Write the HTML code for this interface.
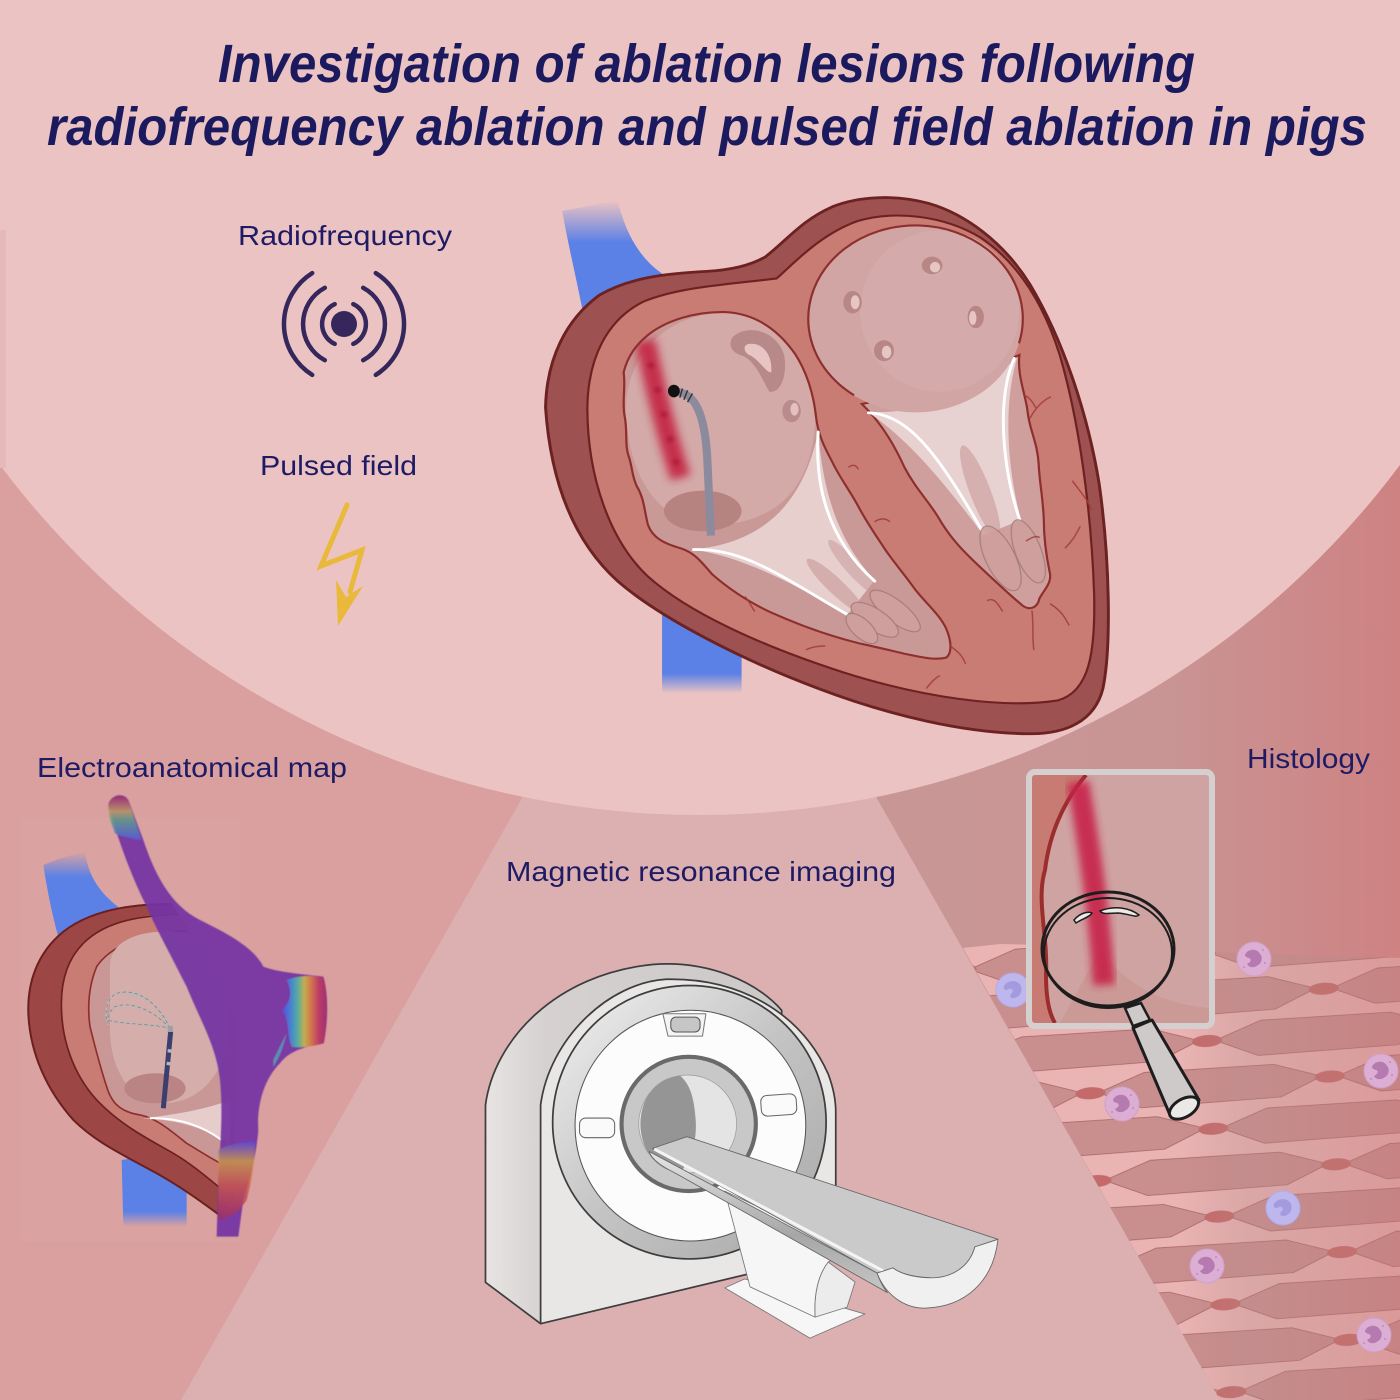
<!DOCTYPE html>
<html><head><meta charset="utf-8">
<style>html,body{margin:0;padding:0;background:#ecc3c3;}svg{display:block;}</style>
</head><body>
<svg width="1400" height="1400" viewBox="0 0 1400 1400" xmlns="http://www.w3.org/2000/svg">
<defs>
 <linearGradient id="rgRight" x1="880" y1="0" x2="1400" y2="0" gradientUnits="userSpaceOnUse">
  <stop offset="0" stop-color="#c99696"/><stop offset="0.55" stop-color="#c99494"/><stop offset="1" stop-color="#ce8282"/>
 </linearGradient>
 <linearGradient id="fadeTop" x1="0" y1="0" x2="0" y2="1">
  <stop offset="0" stop-color="#5b80e6" stop-opacity="0"/><stop offset="0.3" stop-color="#5b80e6" stop-opacity="1"/><stop offset="1" stop-color="#5b80e6" stop-opacity="1"/>
 </linearGradient>
 <linearGradient id="fadeBot" x1="0" y1="0" x2="0" y2="1">
  <stop offset="0" stop-color="#5b80e6" stop-opacity="1"/><stop offset="0.8" stop-color="#5b80e6" stop-opacity="1"/><stop offset="1" stop-color="#5b80e6" stop-opacity="0"/>
 </linearGradient>
 <linearGradient id="tisDark" x1="1180" y1="0" x2="1400" y2="0" gradientUnits="userSpaceOnUse">
  <stop offset="0" stop-color="#b88080" stop-opacity="0"/><stop offset="0.3" stop-color="#b88a8a" stop-opacity="0.3"/><stop offset="1" stop-color="#c47272" stop-opacity="0.4"/>
 </linearGradient>
 <linearGradient id="rbH" x1="0" y1="0" x2="1" y2="0">
  <stop offset="0" stop-color="#5a48d8"/><stop offset="0.18" stop-color="#3f88e0"/><stop offset="0.35" stop-color="#4fc0a0"/><stop offset="0.5" stop-color="#d0c040"/><stop offset="0.65" stop-color="#e08040"/><stop offset="0.82" stop-color="#c83a5a"/><stop offset="1" stop-color="#a03070"/>
 </linearGradient>
 <linearGradient id="rbV" x1="0" y1="0" x2="0" y2="1">
  <stop offset="0" stop-color="#a02c70"/><stop offset="0.35" stop-color="#c0a060"/><stop offset="0.55" stop-color="#60a088"/><stop offset="1" stop-color="#5060d8"/>
 </linearGradient>
 <linearGradient id="rbB" x1="0" y1="0" x2="0" y2="1">
  <stop offset="0" stop-color="#5a4ad8"/><stop offset="0.25" stop-color="#d0a040"/><stop offset="0.55" stop-color="#d05a48"/><stop offset="1" stop-color="#a02c60"/>
 </linearGradient>
 <linearGradient id="mriBack" x1="0" y1="0" x2="1" y2="0">
  <stop offset="0" stop-color="#e8e4e4"/><stop offset="0.2" stop-color="#d6d1d1"/><stop offset="1" stop-color="#ccc8c8"/>
 </linearGradient>
 <linearGradient id="ringG" x1="0" y1="0" x2="1" y2="1">
  <stop offset="0" stop-color="#f2f2f2"/><stop offset="0.5" stop-color="#c4c4c4"/><stop offset="1" stop-color="#a8a8a8"/>
 </linearGradient>
 <linearGradient id="sideG" x1="0" y1="0" x2="0" y2="1">
  <stop offset="0" stop-color="#e6e6e6"/><stop offset="0.6" stop-color="#a6a6a6"/><stop offset="1" stop-color="#c8c8c8"/>
 </linearGradient>
 <filter id="blurL" x="-50%" y="-50%" width="200%" height="200%"><feGaussianBlur stdDeviation="12"/></filter>
 <filter id="blurS" x="-50%" y="-50%" width="200%" height="200%"><feGaussianBlur stdDeviation="4"/></filter>
 <filter id="blurT" x="-10%" y="-10%" width="120%" height="120%"><feGaussianBlur stdDeviation="1.5"/></filter>
 <pattern id="tissue" width="240" height="88" patternUnits="userSpaceOnUse" patternTransform="translate(960,948) rotate(-4)">
  <rect width="240" height="88" fill="#e9b4b3"/>
  <g fill="#c98e8e" stroke="#a86464" stroke-width="0.8">
   <polygon points="8,22 55,5 185,6 232,21 190,39 50,40"/>
   <polygon points="248,22 295,5 425,6 472,21 430,39 290,40"/>
   <polygon points="-232,22 -185,5 -55,6 -8,21 -50,39 -190,40"/>
   <polygon points="128,66 175,49 305,50 352,65 310,83 170,84"/>
   <polygon points="-112,66 -65,49 65,50 112,65 70,83 -70,84"/>
  </g>
  <g fill="#c46a6a">
   <ellipse cx="0" cy="22" rx="15" ry="6"/>
   <ellipse cx="240" cy="22" rx="15" ry="6"/>
   <ellipse cx="120" cy="66" rx="15" ry="6"/>
  </g>
 </pattern>
 <clipPath id="tisClip"><polygon points="963,948 1000,944 1100,946 1215,952 1300,955 1400,958 1400,1400 1220,1400"/></clipPath>
 <clipPath id="boxClip"><rect x="1031" y="775" width="179" height="248"/></clipPath>
 <clipPath id="eamClip"><polygon points="0,0 420,0 470,300 560,440 650,560 700,700 710,1000 700,1400 0,1400"/></clipPath>
 <path id="raChamber" d="M228,640 C222,600 232,560 226,520 C238,470 262,440 290,415 C340,372 420,346 500,348 C585,352 645,400 690,468 C722,520 740,585 746,645 C752,700 770,735 790,775 C810,820 840,860 862,905 C885,950 905,980 930,1020 C955,1060 985,1095 1015,1140 C1045,1180 1080,1210 1098,1250 C1112,1285 1115,1320 1098,1333 C1065,1342 1025,1330 985,1322 C940,1310 905,1302 862,1292 C785,1272 700,1240 620,1202 C552,1168 505,1132 465,1095 C440,1065 420,1035 382,1022 C335,1008 305,992 292,955 C282,915 282,880 262,845 C248,815 250,790 240,760 C228,725 238,690 228,640 Z"/>
 <clipPath id="raClip"><use href="#raChamber"/></clipPath>
 <g id="pcell">
  <circle r="17" fill="#dcaed4" stroke="#cfa0c8" stroke-width="1"/>
  <path d="M-8,-6 C-4,-11 4,-10 6,-5 C9,-2 8,4 4,6 C1,9 -5,9 -7,5 C-3,3 -2,0 -5,-1 C-9,-2 -10,-4 -8,-6 Z" fill="#b57ab0"/>
  <circle cx="9" cy="-9" r="1" fill="#c08bbd"/><circle cx="11" cy="4" r="1" fill="#c08bbd"/><circle cx="-10" cy="8" r="1" fill="#c08bbd"/>
 </g>
 <g id="bcell">
  <circle r="17" fill="#bdb7ee" stroke="#b0aae8" stroke-width="1"/>
  <path d="M-9,-4 C-6,-10 5,-11 8,-4 C10,2 6,8 0,8 C-3,8 -4,5 -1,3 C1,1 -1,-2 -4,-1 C-7,1 -10,0 -9,-4 Z" fill="#a49ade"/>
 </g>
</defs>

<!-- background regions -->
<rect width="1400" height="1400" fill="#dcb0b0"/>
<polygon points="0,0 640,590 181,1400 0,1400" fill="#d9a09f"/>
<polygon points="758,590 1400,0 1400,1400 1220,1400" fill="url(#rgRight)"/>
<circle cx="700" cy="-60" r="875" fill="#ecc3c3"/>
<rect x="0" y="230" width="6" height="238" fill="#e5b9b9"/>

<!-- title -->
<g font-family="'Liberation Sans', Arial, sans-serif" font-weight="bold" font-style="italic" fill="#1c1a5e" font-size="54">
 <text x="218" y="82" textLength="977" lengthAdjust="spacingAndGlyphs">Investigation of ablation lesions following</text>
 <text x="47" y="145" textLength="1320" lengthAdjust="spacingAndGlyphs">radiofrequency ablation and pulsed field ablation in pigs</text>
</g>

<!-- labels -->
<g font-family="'Liberation Sans', Arial, sans-serif" fill="#1e1b64" font-size="28">
 <text x="238" y="245" textLength="214" lengthAdjust="spacingAndGlyphs">Radiofrequency</text>
 <text x="260" y="475" textLength="157" lengthAdjust="spacingAndGlyphs">Pulsed field</text>
 <text x="37" y="777" textLength="310" lengthAdjust="spacingAndGlyphs">Electroanatomical map</text>
 <text x="506" y="881" textLength="390" lengthAdjust="spacingAndGlyphs">Magnetic resonance imaging</text>
 <text x="1247" y="768" textLength="123" lengthAdjust="spacingAndGlyphs">Histology</text>
</g>

<!-- radio icon -->
<g stroke="#35275c" stroke-width="4.5" fill="none" stroke-linecap="round">
 <path d="M334.7,304.1 A22,22 0 0 0 334.7,343.9"/>
 <path d="M353.3,304.1 A22,22 0 0 1 353.3,343.9"/>
 <path d="M324.8,287.8 A41,41 0 0 0 324.8,360.2"/>
 <path d="M363.2,287.8 A41,41 0 0 1 363.2,360.2"/>
 <path d="M312.2,273.1 A60,60 0 0 0 312.2,374.9"/>
 <path d="M375.8,273.1 A60,60 0 0 1 375.8,374.9"/>
</g>
<circle cx="344" cy="324" r="13" fill="#35275c"/>

<!-- lightning -->
<polyline points="347,505 321,566 362,550 350,592" fill="none" stroke="#e8b93b" stroke-width="5" stroke-linecap="round" stroke-linejoin="miter"/>
<polygon points="336,580 346,597 363,586 338,626" fill="#e8b93b"/>

<!-- ================= BIG HEART ================= -->
<g transform="translate(540,190) scale(0.3699,0.3508)">
 <path d="M60,60 L210,30 C230,120 270,200 340,245 L130,430 C110,300 80,180 60,60 Z" fill="url(#fadeTop)"/>
 <rect x="330" y="1150" width="215" height="285" fill="url(#fadeBot)"/>
 <path d="M15,620 C18,480 70,370 160,300 C240,250 340,238 450,232 C520,228 570,215 610,190 C670,140 710,85 790,48 C860,18 960,12 1050,38 C1150,68 1255,150 1325,270 C1410,420 1480,630 1512,840 C1540,1050 1545,1300 1522,1420 C1500,1515 1420,1552 1320,1550 C1150,1548 950,1500 750,1420 C560,1345 330,1225 210,1115 C100,1010 30,850 15,620 Z" fill="#9d5150" stroke="#6d2222" stroke-width="8"/>
 <path d="M128,620 C130,480 180,370 280,318 C380,275 520,268 640,252 C690,205 760,125 860,88 C960,58 1090,72 1190,135 C1290,205 1360,320 1405,470 C1455,650 1490,900 1498,1150 C1502,1320 1485,1430 1400,1455 C1250,1480 1030,1445 820,1375 C600,1300 400,1205 290,1100 C190,1000 128,820 128,620 Z" fill="#c97c74" stroke="#6d2222" stroke-width="6"/>
 <use href="#raChamber" fill="#c99997"/>
 <g clip-path="url(#raClip)">
  <path d="M232,640 C230,460 350,352 500,350 C640,350 745,470 745,640 C740,850 640,950 470,955 C340,955 245,850 232,640 Z" fill="#d4aaa9"/>
  <path d="M415,1025 C600,1005 710,900 752,690 C765,860 805,1000 905,1112 L830,1212 C700,1130 550,1045 415,1025 Z" fill="#e7cfce"/>
  <ellipse cx="440" cy="915" rx="105" ry="58" fill="#b78381"/>
  <path d="M285,430 C310,560 340,690 380,820" stroke="#c3213f" stroke-width="55" fill="none" opacity="0.9" filter="url(#blurL)"/>
  <g fill="#a81838" opacity="0.7" filter="url(#blurS)">
   <circle cx="300" cy="500" r="9"/><circle cx="318" cy="570" r="9"/><circle cx="335" cy="640" r="9"/><circle cx="352" cy="710" r="9"/><circle cx="368" cy="775" r="9"/>
  </g>
  <path d="M520,420 C560,380 640,400 660,470 C670,530 650,580 620,575 C600,540 580,480 540,470 C515,460 510,440 520,420 Z" fill="#b78a89"/>
  <path d="M560,440 C600,430 630,470 625,520 C610,520 590,480 565,470 C550,460 550,445 560,440 Z" fill="#e8c5c4"/>
  <ellipse cx="680" cy="630" rx="25" ry="32" fill="#b98b8a"/>
  <ellipse cx="688" cy="625" rx="11" ry="18" fill="#e4c1c0"/>
  <ellipse cx="800" cy="1130" rx="22" ry="110" transform="rotate(-45 800 1130)" fill="#c69896" opacity="0.6"/>
  <ellipse cx="845" cy="1075" rx="20" ry="100" transform="rotate(-40 845 1075)" fill="#c69896" opacity="0.5"/>
 </g>
 <use href="#raChamber" fill="none" stroke="#8e2f2e" stroke-width="6"/>
 <path d="M870,610 C920,660 955,720 985,790 C1015,850 1045,880 1075,930 C1105,985 1135,1020 1175,1060 C1215,1100 1265,1150 1305,1185 C1325,1200 1345,1190 1350,1165 C1362,1140 1385,1120 1378,1090 C1368,1040 1362,990 1362,940 C1360,880 1350,830 1348,780 C1345,720 1322,680 1318,630 C1312,580 1290,530 1296,470 L1100,560 Z" fill="#cf9f9d" stroke="#8e2f2e" stroke-width="6"/>
 <path d="M885,632 C1010,640 1160,600 1290,478 C1250,620 1265,800 1300,940 L1200,985 C1110,860 1010,720 885,632 Z" fill="#e8d2d1"/>
 <ellipse cx="1190" cy="860" rx="28" ry="140" transform="rotate(-20 1190 860)" fill="#c99a98" opacity="0.6"/>
 <ellipse cx="1015" cy="368" rx="290" ry="266" fill="#d0a5a4"/>
 <ellipse cx="1080" cy="345" rx="215" ry="230" fill="#d5acab" opacity="0.8"/>
 <path d="M849,585 A290,266 0 1 1 1295,437" fill="none" stroke="#8e2f2e" stroke-width="6"/>
 <g fill="#b88685">
  <ellipse cx="1060" cy="215" rx="28" ry="25"/><ellipse cx="845" cy="320" rx="25" ry="32"/><ellipse cx="1178" cy="362" rx="22" ry="32"/><ellipse cx="930" cy="458" rx="27" ry="30"/>
 </g>
 <g fill="#e6c6c5">
  <ellipse cx="1068" cy="220" rx="14" ry="15"/><ellipse cx="852" cy="320" rx="12" ry="20"/><ellipse cx="1170" cy="365" rx="10" ry="20"/><ellipse cx="937" cy="462" rx="13" ry="18"/>
 </g>
 <path d="M370,575 C420,580 445,640 452,760 L462,985" fill="none" stroke="#8b8b9d" stroke-width="22"/>
 <ellipse cx="362" cy="573" rx="16" ry="18" fill="#111"/>
 <g stroke="#333" stroke-width="4"><line x1="385" y1="566" x2="378" y2="592"/><line x1="399" y1="571" x2="389" y2="598"/><line x1="412" y1="580" x2="399" y2="605"/></g>
 <g fill="none" stroke="#ffffff" stroke-width="8" stroke-linecap="round">
  <path d="M415,1025 C550,1020 650,1100 830,1210"/>
  <path d="M752,690 C742,850 782,1000 905,1115"/>
  <path d="M888,635 C1000,640 1080,760 1200,980"/>
  <path d="M1282,480 C1232,600 1252,800 1297,940"/>
 </g>
 <g fill="#cfa09e" stroke="#9d7877" stroke-width="3" opacity="0.9">
  <ellipse cx="960" cy="1200" rx="85" ry="30" transform="rotate(40 960 1200)"/>
  <ellipse cx="905" cy="1225" rx="75" ry="30" transform="rotate(35 905 1225)"/>
  <ellipse cx="870" cy="1250" rx="55" ry="26" transform="rotate(45 870 1250)"/>
  <ellipse cx="1245" cy="1050" rx="40" ry="100" transform="rotate(-25 1245 1050)"/>
  <ellipse cx="1320" cy="1030" rx="35" ry="95" transform="rotate(-20 1320 1030)"/>
 </g>
 <g fill="none" stroke="#a33b3b" stroke-width="3.5" stroke-linecap="round">
  <path d="M1325,650 C1340,620 1360,600 1380,590"/><path d="M1340,620 C1330,600 1320,590 1310,585"/>
  <path d="M1440,830 C1460,860 1480,880 1490,910"/><path d="M1210,1170 C1230,1160 1240,1185 1250,1200"/>
  <path d="M1330,1200 C1335,1240 1330,1280 1335,1310"/><path d="M1380,1180 C1410,1200 1420,1220 1430,1240"/>
  <path d="M1150,1350 C1140,1320 1120,1310 1110,1300"/><path d="M1420,1020 C1440,1000 1450,980 1460,960"/>
  <path d="M1045,1420 C1060,1400 1070,1390 1080,1385"/><path d="M720,1310 C740,1300 760,1300 770,1300"/>
  <path d="M555,1160 C570,1180 575,1195 580,1200"/><path d="M905,945 C920,935 935,935 945,945"/>
  <path d="M835,790 C845,780 855,785 860,795"/><path d="M1315,1000 C1330,990 1340,985 1350,990"/>
 </g>
</g>

<!-- ================= EAM ================= -->
<g transform="translate(0,780) scale(0.3333)">
 <rect x="60" y="110" width="660" height="1275" fill="#dca6a5" opacity="0.4"/>
 <path d="M130,255 C190,230 230,222 255,215 C265,290 300,340 360,385 L175,470 C155,400 140,320 130,255 Z" fill="url(#fadeTop)"/>
 <path d="M365,1140 L560,1110 L560,1340 L370,1340 Z" fill="url(#fadeBot)"/>
 <g clip-path="url(#eamClip)">
  <path d="M560,372 C420,362 280,385 190,455 C110,520 82,610 85,700 C90,820 140,930 220,1020 C290,1090 380,1130 470,1180 C550,1225 610,1270 665,1310 L700,1260 L700,400 Z" fill="#9c4646"/>
  <path d="M620,375 C420,362 280,385 190,455 C110,520 82,610 85,700 C90,820 140,930 220,1020 C290,1090 380,1130 470,1180 C550,1225 610,1270 665,1310" fill="none" stroke="#6b1f1f" stroke-width="6"/>
  <path d="M560,400 C430,400 320,420 250,490 C195,545 180,620 185,700 C190,800 230,900 300,970 C370,1040 450,1080 520,1120 C580,1155 630,1200 680,1240 L700,1220 L700,420 Z" fill="#c97c74"/>
  <path d="M620,402 C430,400 320,420 250,490 C195,545 180,620 185,700 C190,800 230,900 300,970 C370,1040 450,1080 520,1120 C580,1155 630,1200 680,1240" fill="none" stroke="#6b1f1f" stroke-width="5"/>
  <path d="M510,455 C420,460 330,500 290,560 C265,620 262,680 270,740 C285,800 300,860 320,920 C335,970 360,995 420,1005 C470,1015 510,1050 560,1090 C610,1120 640,1140 680,1160 L700,1000 L700,480 Z" fill="#c99896"/>
  <path d="M560,452 C420,460 330,500 290,560 C265,620 262,680 270,740 C285,800 300,860 320,920 C335,970 360,995 420,1005 C470,1015 510,1050 560,1090 C610,1120 640,1140 680,1160" fill="none" stroke="#8e2f2e" stroke-width="5"/>
  <path d="M330,560 C330,480 420,450 520,455 C620,460 690,540 690,700 C690,860 620,960 500,970 C400,975 335,880 330,760 Z" fill="#d5adab"/>
  <ellipse cx="465" cy="925" rx="92" ry="45" fill="#b98483"/>
  <path d="M430,1015 C560,1000 640,980 690,960 L690,1090 C640,1060 560,1020 430,1015 Z" fill="#e6cccb"/>
  <path d="M450,1015 C540,1012 610,1040 665,1080" fill="none" stroke="#fff" stroke-width="6"/>
 </g>
 <g fill="none" stroke="#b8b8b8" stroke-width="5">
  <path d="M510,745 C480,680 420,620 350,640 C318,655 315,700 320,720 C380,735 450,730 510,745"/>
  <path d="M510,745 C470,700 400,660 345,680 C325,695 322,720 325,735"/>
  <path d="M510,745 C490,690 440,640 380,645"/>
 </g>
 <g fill="none" stroke="#7a7a7a" stroke-width="2" stroke-dasharray="10 8">
  <path d="M510,745 C480,680 420,620 350,640 C318,655 315,700 320,720 C380,735 450,730 510,745"/>
  <path d="M510,745 C470,700 400,660 345,680 C325,695 322,720 325,735"/>
 </g>
 <line x1="512" y1="755" x2="490" y2="985" stroke="#3b3f6e" stroke-width="15"/>
 <line x1="503" y1="812" x2="517" y2="814" stroke="#b8b8b8" stroke-width="10"/>
 <line x1="500" y1="850" x2="514" y2="852" stroke="#b8b8b8" stroke-width="10"/>
 <rect x="503" y="738" width="16" height="18" fill="#a0a0a0"/>
 <g filter="url(#blurT)">
  <path d="M325,75 C330,45 370,35 385,60 L430,180 C470,300 520,380 600,420 C680,460 760,500 790,560 C830,575 880,580 970,590 C985,640 985,720 970,790 C920,800 870,810 840,850 C790,900 770,980 775,1050 C770,1120 750,1200 730,1260 L715,1370 L650,1370 L655,1200 C660,1100 670,1000 660,900 C650,800 600,720 560,620 C510,520 470,450 440,380 C400,300 360,200 325,75 Z" fill="#7334a3" opacity="0.93"/>
  <path d="M325,78 C328,45 370,38 385,62 L425,180 C395,176 362,168 345,160 C335,130 324,110 325,78 Z" fill="url(#rbV)" opacity="0.85"/>
  <path d="M860,600 C900,585 950,585 972,595 C985,650 985,720 972,790 C940,800 900,805 875,800 C860,760 870,720 845,690 C870,670 880,640 860,600 Z" fill="url(#rbH)" opacity="0.85"/>
  <path d="M820,840 C840,800 850,780 860,760 C850,800 840,830 820,860 Z" fill="#4fb0c0" opacity="0.7"/>
  <path d="M655,1110 C690,1090 740,1085 765,1085 C765,1150 755,1200 740,1260 C720,1290 700,1310 655,1320 Z" fill="url(#rbB)" opacity="0.8"/>
 </g>
</g>

<!-- ================= MRI ================= -->
<g transform="translate(470,950) scale(0.3444)" stroke-linejoin="round">
 <path d="M45,450 C70,260 250,70 530,42 C690,30 830,90 905,175 L905,700 L205,1085 L45,965 Z" fill="url(#mriBack)" stroke="#3d3d3d" stroke-width="5"/>
 <path d="M205,450 C230,260 400,95 570,85 C780,80 960,180 1040,360 C1055,400 1062,440 1062,470 L1062,880 L205,1085 Z" fill="#e9e6e6" stroke="#3d3d3d" stroke-width="5"/>
 <circle cx="637" cy="500" r="397" fill="url(#ringG)" stroke="#3d3d3d" stroke-width="5"/>
 <circle cx="640" cy="510" r="335" fill="#fcfcfc" stroke="#555" stroke-width="3"/>
 <polygon points="560,185 685,185 675,250 575,250" fill="#f4f4f4" stroke="#777" stroke-width="3"/>
 <rect x="583" y="195" width="85" height="43" rx="15" fill="#c6c6c6" stroke="#555" stroke-width="3"/>
 <rect x="318" y="488" width="102" height="57" rx="18" fill="#fafafa" stroke="#666" stroke-width="3"/>
 <rect x="845" y="420" width="103" height="60" rx="18" fill="#fafafa" stroke="#666" stroke-width="3" transform="rotate(-4 896 450)"/>
 <circle cx="635" cy="505" r="195" fill="#c8c8c8" stroke="#6a6a6a" stroke-width="12"/>
 <circle cx="632" cy="505" r="142" fill="#e4e4e4" stroke="#999" stroke-width="2"/>
 <path d="M610,365 C540,370 495,430 495,505 C495,580 540,640 610,648 C645,600 660,550 655,490 C650,430 640,390 610,365 Z" fill="#959595"/>
 <!-- pedestal -->
 <polygon points="740,981 798,955 1147,1057 987,1127" fill="#f6f6f6" stroke="#777" stroke-width="2.5"/>
 <path d="M1040,906 L1118,964 L1095,1037 L1002,1066 C998,1002 1010,944 1040,906 Z" fill="#ececec" stroke="#777" stroke-width="2.5"/>
 <path d="M740,700 L813,978 L1002,1066 C998,1002 1010,944 1040,906 L1100,870 Z" fill="#f6f6f6" stroke="#777" stroke-width="2.5"/>
 <!-- table -->
 <path d="M520,585 L1182,938 C1190,962 1200,980 1212,995 L600,650 C560,630 528,610 520,585 Z" fill="url(#sideG)" stroke="#666" stroke-width="2.5"/>
 <path d="M530,576 L630,542 L1533,840 L1466,862 C1450,920 1400,952 1344,952 C1290,950 1250,940 1228,923 L1182,938 Z" fill="#cacaca" stroke="#666" stroke-width="2.5"/>
 <line x1="535" y1="578" x2="1200" y2="932" stroke="#f4f4f4" stroke-width="9"/>
 <path d="M1182,938 L1228,923 C1250,940 1290,952 1344,952 C1400,950 1450,920 1466,862 L1533,840 C1520,960 1440,1037 1320,1040 C1260,1040 1205,1000 1182,938 Z" fill="#f0f0f0" stroke="#666" stroke-width="2.5"/>
</g>

<!-- ================= HISTOLOGY ================= -->
<g clip-path="url(#tisClip)">
 <rect x="900" y="900" width="500" height="500" fill="url(#tissue)"/>
 <rect x="900" y="900" width="500" height="500" fill="url(#tisDark)"/>
</g>
<use href="#pcell" x="1254" y="959"/>
<use href="#bcell" x="1013" y="990"/>
<use href="#pcell" x="1122" y="1104"/>
<use href="#pcell" x="1381" y="1071"/>
<use href="#bcell" x="1283" y="1208"/>
<use href="#pcell" x="1207" y="1266"/>
<use href="#pcell" x="1374" y="1335"/>

<!-- magnifier box -->
<g clip-path="url(#boxClip)">
 <rect x="1031" y="775" width="179" height="248" fill="#cfa3a2"/>
 <path d="M1100,950 C1130,990 1170,1005 1210,1008 L1210,1023 L1060,1023 Z" fill="#c99593" opacity="0.7"/>
 <path d="M1031,775 L1086,775 C1065,800 1050,830 1045,870 C1036,900 1048,935 1046,975 C1046,1000 1050,1015 1055,1023 L1031,1023 Z" fill="#c87b73"/>
 <path d="M1086,775 C1065,800 1050,830 1045,870 C1036,900 1048,935 1046,975 C1046,1000 1050,1015 1055,1023" fill="none" stroke="#9b2d2d" stroke-width="4"/>
 <path d="M1078,782 C1090,850 1100,920 1104,985" stroke="#c7244a" stroke-width="22" fill="none" opacity="0.9" filter="url(#blurS)"/>
</g>
<rect x="1029" y="772" width="183" height="254" rx="6" fill="none" stroke="#d5cfcf" stroke-width="6"/>
<polygon points="1125,1008 1141,1003 1150,1020 1133,1026" fill="#cfcaca" stroke="#1d1d1d" stroke-width="2.5"/>
<polygon points="1133,1028 1152,1020 1199,1100 1170,1115" fill="#cfcaca" stroke="#1d1d1d" stroke-width="3" stroke-linejoin="round"/>
<ellipse cx="1184" cy="1108" rx="16" ry="9" transform="rotate(-30 1184 1108)" fill="#ebe8e8" stroke="#1d1d1d" stroke-width="3"/>
<ellipse cx="1108" cy="953" rx="64" ry="55" fill="none" stroke="#1d1d1d" stroke-width="2"/>
<ellipse cx="1108" cy="949" rx="66" ry="57" fill="none" stroke="#1d1d1d" stroke-width="3"/>
<path d="M1074,920 C1080,913 1088,911 1092,913 C1090,917 1082,919 1076,923 Z" fill="#efe8e8" stroke="#1d1d1d" stroke-width="1.5"/>
<path d="M1100,911 C1115,905 1130,908 1139,915 C1136,918 1130,914 1118,913 C1110,913 1103,915 1100,911 Z" fill="#efe8e8" stroke="#1d1d1d" stroke-width="1.5"/>
</svg>
</body></html>
